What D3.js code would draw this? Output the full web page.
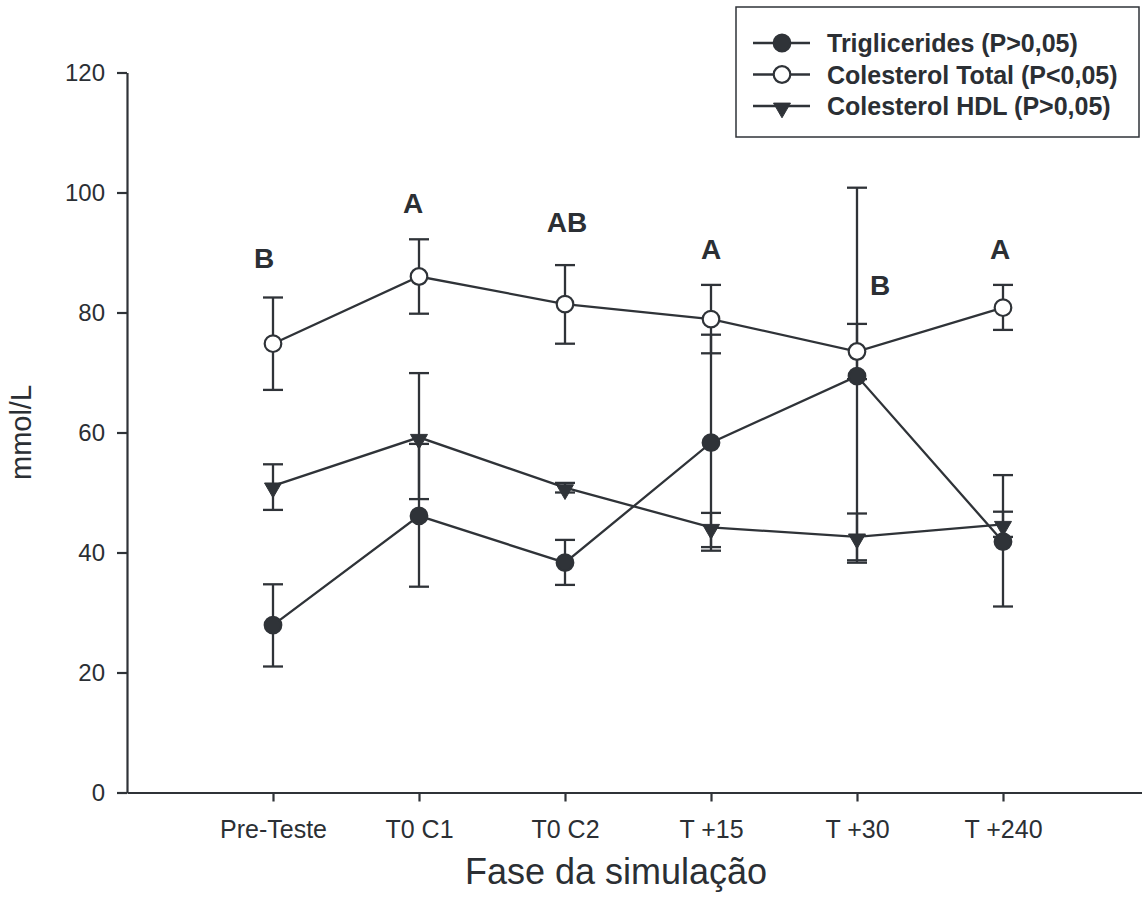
<!DOCTYPE html>
<html lang="pt">
<head>
<meta charset="UTF-8">
<title>Fase da simulação</title>
<script src="https://d3js.org/d3.v7.min.js"></script>
<style>
    body { margin: 0; background: #fff; }
    text { font-family: "Liberation Sans", Arial, sans-serif; fill: #2b2f34; }
    .axis path, .axis line { stroke: #2f3338; stroke-width: 2.2; }
    .axis text { font-size: 25px; fill: #2b2f34; }
</style>
</head>
<body>
<script>
    var categories = ["Pre-Teste", "T0 C1", "T0 C2", "T +15", "T +30", "T +240"];

    // Triglicerides
    var trig   = [27.9, 46.1, 38.3, 58.3, 69.4, 41.8];
    var trigHi = [34.7, 58.1, 42.1, 76.3, 100.8, 52.9];
    var trigLo = [21.0, 34.3, 34.6, 40.3, 38.3, 31.0];

    // Colesterol Total
    var ct   = [74.8, 86.0, 81.4, 78.9, 73.5, 80.8];
    var ctHi = [82.5, 92.2, 87.9, 84.6, 78.1, 84.6];
    var ctLo = [67.1, 79.8, 74.8, 73.2, 68.9, 77.1];

    // Colesterol HDL
    var hdl   = [51.1, 59.2, 50.8, 44.2, 42.6, 44.7];
    var hdlHi = [54.7, 69.9, 51.6, 46.6, 46.5, 46.8];
    var hdlLo = [47.1, 48.9, 50.0, 40.9, 38.7, 42.6];

    // letras de significancia (Colesterol Total)
    var letters = ["B", "A", "AB", "A", "B", "A"];
    var letterY = [87.4, 96.6, 93.4, 89.0, 82.9, 89.0];

    var yTicks = [0, 20, 40, 60, 80, 100, 120];

    var width = 1142, height = 908;
    var svg = d3.select("body").append("svg")
        .attr("width", width)
        .attr("height", height);

    var x = d3.scaleLinear().domain([0, 7]).range([127, 1149]);
    var y = d3.scaleLinear().domain([0, 120]).range([792.5, 72.5]);

    var ink = "#2f3338";

    // eixos
    svg.append("g")
        .attr("class", "axis")
        .attr("transform", "translate(0," + y(0) + ")")
        .call(d3.axisBottom(x).tickValues([1, 2, 3, 4, 5, 6])
            .tickFormat(function(d) { return categories[d - 1]; })
            .tickSize(9).tickSizeOuter(0).tickPadding(19));

    svg.append("g")
        .attr("class", "axis")
        .attr("transform", "translate(" + x(0) + ",0)")
        .call(d3.axisLeft(y).tickValues(yTicks)
            .tickSize(10).tickSizeOuter(0).tickPadding(12))
        .selectAll("text").style("font-size", "24px");

    svg.append("text")
        .attr("transform", "translate(31," + y(60) + ") rotate(-90)")
        .attr("text-anchor", "middle")
        .style("font-size", "29px")
        .text("mmol/L");

    svg.append("text")
        .attr("x", 616).attr("y", 884)
        .attr("text-anchor", "middle")
        .style("font-size", "36px")
        .text("Fase da simulação");

    var series = [
        { name: "Triglicerides (P>0,05)", v: trig, hi: trigHi, lo: trigLo, shape: "circle", fill: ink },
        { name: "Colesterol Total (P<0,05)", v: ct, hi: ctHi, lo: ctLo, shape: "circle", fill: "#fff" },
        { name: "Colesterol HDL (P>0,05)", v: hdl, hi: hdlHi, lo: hdlLo, shape: "tri", fill: ink }
    ];

    var line = d3.line()
        .x(function(d, i) { return x(i + 1); })
        .y(function(d) { return y(d); });

    var tri = d3.symbol().type(d3.symbolTriangle).size(125);

    function drawMarker(g, shape, fill, cx, cy) {
        if (shape === "circle") {
            g.append("circle").attr("cx", cx).attr("cy", cy).attr("r", 8.3)
                .attr("fill", fill).attr("stroke", ink).attr("stroke-width", 2.2);
        } else {
            g.append("path").attr("d", tri)
                .attr("transform", "translate(" + cx + "," + (cy + 2) + ") rotate(180)")
                .attr("fill", fill).attr("stroke", ink).attr("stroke-width", 1);
        }
    }

    // barras de erro
    series.forEach(function(s) {
        var g = svg.append("g");
        s.v.forEach(function(v, i) {
            var cx = x(i + 1);
            g.append("line").attr("x1", cx).attr("x2", cx)
                .attr("y1", y(s.hi[i])).attr("y2", y(s.lo[i]))
                .attr("stroke", ink).attr("stroke-width", 2.3);
            [s.hi[i], s.lo[i]].forEach(function(e) {
                g.append("line").attr("x1", cx - 10).attr("x2", cx + 10)
                    .attr("y1", y(e)).attr("y2", y(e))
                    .attr("stroke", ink).attr("stroke-width", 2.3);
            });
        });
    });

    // linhas e marcadores
    series.forEach(function(s) {
        var g = svg.append("g");
        g.append("path").datum(s.v).attr("d", line)
            .attr("fill", "none").attr("stroke", ink).attr("stroke-width", 2.3);
        s.v.forEach(function(v, i) {
            drawMarker(g, s.shape, s.fill, x(i + 1), y(v));
        });
    });

    // letras
    var letterDx = [-9, -6, 2, 0, 23, -3];
    svg.selectAll(".letter")
        .data(letters)
        .enter().append("text")
        .attr("class", "letter")
        .attr("x", function(d, i) { return x(i + 1) + letterDx[i]; })
        .attr("y", function(d, i) { return y(letterY[i]); })
        .attr("text-anchor", "middle")
        .style("font-size", "28px")
        .style("font-weight", "bold")
        .text(function(d) { return d; });

    // legenda
    var leg = svg.append("g");
    leg.append("rect")
        .attr("x", 736).attr("y", 7).attr("width", 403).attr("height", 130)
        .attr("fill", "#fff").attr("stroke", ink).attr("stroke-width", 1.5);
    series.forEach(function(s, i) {
        var cy = 43 + i * 31.5;
        leg.append("line").attr("x1", 753).attr("x2", 810)
            .attr("y1", cy).attr("y2", cy)
            .attr("stroke", ink).attr("stroke-width", 2.4);
        drawMarker(leg, s.shape, s.fill, 782, cy);
        leg.append("text")
            .attr("x", 827).attr("y", cy + 9)
            .style("font-size", "25px")
            .style("font-weight", "bold")
            .text(s.name);
    });
</script>
</body>
</html>
